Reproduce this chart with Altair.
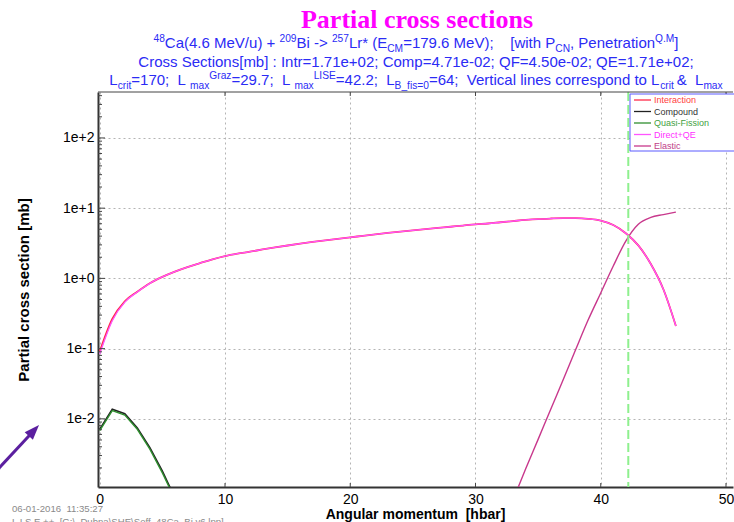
import altair as alt
import pandas as pd

# ---------------------------------------------------------------- data
SERIES = ["Interaction", "Compound", "Quasi-Fission", "Direct+QE", "Elastic"]
LINE_COLORS = ["#ff2a4a", "#222222", "#2f8f2f", "#ff55ff", "#c8388c"]
LABEL_COLORS = ["#ff4040", "#333333", "#3f9f3f", "#ff30ff", "#c04088"]

# angular momentum l (hbar) and partial cross sections (mb)
l_all = list(range(0, 47))
interaction = [0.091, 0.264, 0.472, 0.647, 0.854, 1.052, 1.25, 1.45, 1.65, 1.87,
               2.08, 2.25, 2.40, 2.58, 2.76, 2.94, 3.12, 3.30, 3.48, 3.66,
               3.84, 4.04, 4.24, 4.44, 4.64, 4.84, 5.04, 5.24, 5.44, 5.66,
               5.88, 6.05, 6.30, 6.55, 6.80, 7.00, 7.12, 7.20, 7.20, 7.05,
               6.65, 5.75, 4.40, 2.95, 1.60, 0.70, 0.21]
direct_qe = [0.084, 0.25, 0.46, 0.64, 0.85, 1.05, 1.25, 1.45, 1.65, 1.87,
             2.08, 2.25, 2.40, 2.58, 2.76, 2.94, 3.12, 3.30, 3.48, 3.66,
             3.84, 4.04, 4.24, 4.44, 4.64, 4.84, 5.04, 5.24, 5.44, 5.66,
             5.88, 6.05, 6.30, 6.55, 6.80, 7.00, 7.12, 7.20, 7.20, 7.05,
             6.65, 5.75, 4.40, 2.95, 1.60, 0.70, 0.21]
l_fusion = [0, 1, 2, 3, 4, 5, 6]
compound = [0.0071, 0.0137, 0.0118, 0.0074, 0.0039, 0.0018, 0.00075]
quasi_fission = [0.0068, 0.0131, 0.0113, 0.0071, 0.0037, 0.0017, 0.00072]
l_elastic = list(range(33, 47))
elastic = [0.0007, 0.00193, 0.0051, 0.0136, 0.036, 0.097, 0.257,
           0.62, 1.5, 3.4, 5.9, 7.4, 8.1, 8.8]

L_MAX_LISE = 42.2

X_TICKS = [0, 10, 20, 30, 40, 50]
Y_TICKS = [0.01, 0.1, 1, 10, 100]

# ---------------------------------------------------------------- geometry
W, H = 635, 395
LEFT, TOP = 98, 92
X_DOMAIN = [-0.14, 50.56]
Y_DOMAIN = [0.00107, 451]

xscale = alt.Scale(domain=X_DOMAIN, nice=False, zero=False)
yscale = alt.Scale(type="log", domain=Y_DOMAIN, nice=False)

SANS = "Liberation Sans"
GRID = dict(grid=True, gridColor="#b4b4b4", gridDash=[2, 3], gridWidth=1,
            ticks=False, domain=True, domainColor="#333333", domainWidth=2,
            labelFont=SANS, labelFontSize=14, labelColor="#000000",
            titleFont=SANS, titleFontWeight="bold", titleColor="#000000")

xaxis = alt.Axis(values=X_TICKS, labelPadding=5, labelFlush=False,
                 title="Angular momentum\u00a0 [hbar]", titleFontSize=14,
                 titleX=317, titleY=31, titleAlign="center",
                 titleBaseline="alphabetic", **GRID)
yaxis = alt.Axis(values=Y_TICKS, labelPadding=4,
                 labelExpr="'1e' + (datum.value >= 1 ? '+' : '-') + abs(round(log(datum.value) / LN10))",
                 title="Partial cross section [mb]", titleFontSize=15,
                 titleX=-75, titleY=197.5, titleAngle=270, titleAlign="center",
                 titleBaseline="middle", **GRID)


def X(field):
    return alt.X(field, scale=xscale, axis=xaxis)


def Y(field):
    return alt.Y(field, scale=yscale, axis=yaxis)


def curve(ls, vals, color, width, interp="linear"):
    df = pd.DataFrame({"l": ls, "sigma": vals})
    return alt.Chart(df).mark_line(
        color=color, strokeWidth=width, clip=True, interpolate=interp
    ).encode(x=X("l:Q"), y=Y("sigma:Q"))


curves = [
    curve(l_all, interaction, LINE_COLORS[0], 1.8, "monotone"),
    curve(l_fusion, compound, LINE_COLORS[1], 1.6),
    curve(l_fusion, quasi_fission, LINE_COLORS[2], 1.4),
    curve(l_all, direct_qe, LINE_COLORS[3], 1.3, "monotone"),
    curve(l_elastic, elastic, LINE_COLORS[4], 1.4, "monotone"),
]

# vertical marker at L_max (LISE)
lmax_line = alt.Chart(pd.DataFrame({"l": [L_MAX_LISE]})).mark_rule(
    color="#8ef08e", strokeDash=[9, 4], strokeWidth=2
).encode(x=X("l:Q"))

# frame top edge and inner ticks
one = pd.DataFrame({"a": [0]})
top_edge = alt.Chart(one).mark_rule(color="#444444", strokeWidth=1).encode(
    x=alt.value(0), x2=alt.value(W), y=alt.value(0))

minor_vals = [k * 10.0 ** e for e in range(-3, 3) for k in range(2, 10)
              if Y_DOMAIN[0] <= k * 10.0 ** e <= Y_DOMAIN[1]]
y_minor = alt.Chart(pd.DataFrame({"sigma": minor_vals})).mark_rule(
    color="#444444", strokeWidth=1).encode(
    y=Y("sigma:Q"), x=alt.value(0), x2=alt.value(4))
y_major = alt.Chart(pd.DataFrame({"sigma": Y_TICKS})).mark_rule(
    color="#444444", strokeWidth=1).encode(
    y=Y("sigma:Q"), x=alt.value(0), x2=alt.value(7))
x_top_ticks = alt.Chart(pd.DataFrame({"l": X_TICKS[1:]})).mark_rule(
    color="#444444", strokeWidth=1).encode(
    x=X("l:Q"), y=alt.value(0), y2=alt.value(4))
x_bot_ticks = alt.Chart(pd.DataFrame({"l": X_TICKS[1:]})).mark_rule(
    color="#444444", strokeWidth=1).encode(
    x=X("l:Q"), y=alt.value(H), y2=alt.value(H - 4))

# ---------------------------------------------------------------- legend box
legend_df = pd.DataFrame({
    "name": SERIES,
    "line": LINE_COLORS,
    "label": LABEL_COLORS,
    "row": list(range(len(SERIES))),
})
legend_df["ly"] = 100 + 11.5 * legend_df["row"] - TOP
legend_df["lx1"] = 634 - LEFT
legend_df["lx2"] = 651 - LEFT
legend_df["tx"] = 654 - LEFT

legend_box = alt.Chart(one).mark_rect(fill="white", stroke="#5a5aff", strokeWidth=1).encode(
    x=alt.value(630 - LEFT), x2=alt.value(650 - LEFT + 100),
    y=alt.value(94 - TOP), y2=alt.value(151 - TOP))
legend_lines = alt.Chart(legend_df).mark_rule(strokeWidth=1.3).encode(
    x=alt.X("lx1:Q", scale=None), x2="lx2:Q",
    y=alt.Y("ly:Q", scale=None), color=alt.Color("line:N", scale=None))
legend_text = alt.Chart(legend_df).mark_text(
    align="left", baseline="middle", font=SANS, fontSize=9).encode(
    x=alt.X("tx:Q", scale=None), y=alt.Y("ly:Q", scale=None),
    text="name:N", color=alt.Color("label:N", scale=None))

# ---------------------------------------------------------------- header text
ARIAL = {" ": 278, "!": 278, "(": 333, ")": 333, "*": 389, "+": 584, ",": 278,
         "-": 333, ".": 278, "/": 278, ":": 278, ";": 278, "=": 584, ">": 584,
         "[": 278, "]": 278, "_": 556, "&": 667,
         "A": 667, "B": 667, "C": 722, "D": 722, "E": 667, "F": 611, "G": 778,
         "H": 722, "I": 278, "J": 500, "K": 667, "L": 556, "M": 833, "N": 722,
         "O": 778, "P": 667, "Q": 778, "R": 722, "S": 667, "T": 611, "U": 722,
         "V": 667, "W": 944, "X": 667, "Y": 667, "Z": 611,
         "a": 556, "b": 556, "c": 500, "d": 556, "e": 556, "f": 278, "g": 556,
         "h": 556, "i": 222, "j": 222, "k": 500, "l": 222, "m": 833, "n": 556,
         "o": 556, "p": 556, "q": 556, "r": 333, "s": 500, "t": 278, "u": 556,
         "v": 500, "w": 722, "x": 500, "y": 500, "z": 500}
SCRIPT = 0.68


def text_width(s, size):
    return sum(ARIAL.get(c, 556) for c in s) * size / 1000.0


def layout_line(segments, center_x, baseline_y, size):
    """Place normal / sub / sup runs side by side, centred on center_x."""
    sizes = [size * (SCRIPT if k != "n" else 1.0) for _, k in segments]
    widths = [text_width(t, fs) for (t, _), fs in zip(segments, sizes)]
    x = center_x - sum(widths) / 2.0
    rows = []
    for (t, k), fs, w in zip(segments, sizes, widths):
        dy = {"n": 0.0, "sub": 0.24 * size, "sup": -0.38 * size}[k]
        rows.append({"hx": x, "hy": baseline_y + dy,
                     "text": t.replace(" ", "\u00a0"), "size": fs})
        x += w
    return rows


HEAD_X = 416 - LEFT
HEAD_SIZE = 15
line1 = [("48", "sup"), ("Ca(4.6 MeV/u) + ", "n"), ("209", "sup"), ("Bi -> ", "n"),
         ("257", "sup"), ("Lr* (E", "n"), ("CM", "sub"), ("=179.6 MeV);    [with P", "n"),
         ("CN", "sub"), (", Penetration", "n"), ("Q.M", "sup"), ("]", "n")]
line2 = [("Cross Sections[mb] : Intr=1.71e+02; Comp=4.71e-02; QF=4.50e-02; QE=1.71e+02;", "n")]
line3 = [("L", "n"), ("crit", "sub"), ("=170;  L ", "n"), ("max", "sub"), ("Graz", "sup"),
         ("=29.7;  L ", "n"), ("max", "sub"), ("LISE", "sup"), ("=42.2;  L", "n"),
         ("B_fis=0", "sub"), ("=64;  Vertical lines correspond to L", "n"),
         ("crit ", "sub"), ("&  L", "n"), ("max", "sub")]

header_rows = (layout_line(line1, HEAD_X, 48 - TOP, HEAD_SIZE)
               + layout_line(line2, HEAD_X, 67 - TOP, HEAD_SIZE)
               + layout_line(line3, HEAD_X, 85 - TOP, HEAD_SIZE))
header = alt.Chart(pd.DataFrame(header_rows)).mark_text(
    align="left", baseline="alphabetic", font=SANS, color="#2b2bf5").encode(
    x=alt.X("hx:Q", scale=None), y=alt.Y("hy:Q", scale=None),
    text="text:N", size=alt.Size("size:Q", scale=None))

title = alt.Chart(pd.DataFrame({"t": ["Partial cross sections"]})).mark_text(
    align="center", baseline="alphabetic", font="Liberation Serif",
    fontWeight="bold", fontSize=26, color="#ff00ff").encode(
    x=alt.value(417 - LEFT), y=alt.value(28 - TOP), text="t:N")

footer = alt.Chart(pd.DataFrame({
    "t": ["06-01-2016\u00a0 11:35:27",
          "L I S E ++\u00a0 [G:\\_Dubna\\SHE\\Seff_48Ca_Bi.v6.lpp]"],
    "fy": [512 - TOP, 525 - TOP],
})).mark_text(align="left", baseline="alphabetic", font=SANS, fontSize=9.6,
              color="#8a8a8a").encode(
    x=alt.value(12 - LEFT), y=alt.Y("fy:Q", scale=None), text="t:N")

# pointer arrow on the left margin
ARROW = "#5b1f9f"
arrow_shaft = alt.Chart(one).mark_rule(color=ARROW, strokeWidth=3).encode(
    x=alt.value(-105), y=alt.value(382.5), x2=alt.value(-64), y2=alt.value(338.5))
arrow_head = alt.Chart(one).mark_point(
    shape="M0,-1L0.75,1L-0.75,1Z", filled=True, opacity=1, color=ARROW,
    size=225, angle=43).encode(x=alt.value(-64.1), y=alt.value(338.5))

chart = alt.layer(
    *curves, lmax_line, top_edge, y_minor, y_major, x_top_ticks, x_bot_ticks,
    legend_box, legend_lines, legend_text, header, title, footer,
    arrow_shaft, arrow_head,
).properties(
    width=W, height=H,
    autosize=alt.AutoSizeParams(type="none"),
    padding={"left": LEFT, "top": TOP, "right": 1, "bottom": 35},
    background="white",
).configure_view(strokeWidth=0)

chart.save("out.html", embed_options={"renderer": "svg", "actions": False})
